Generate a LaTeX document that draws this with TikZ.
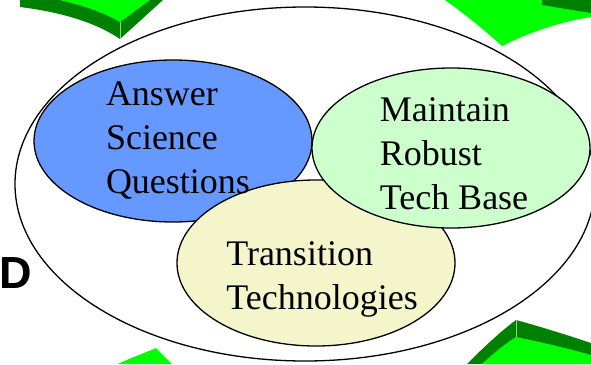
\documentclass[tikz,border=0pt]{standalone}
\usepackage{fontspec}
\setmainfont{Liberation Serif}
\newfontfamily\headfont{Liberation Sans}
\usepackage{xcolor}
\usepackage{tikz}
\usetikzlibrary{shapes.geometric,positioning}
\definecolor{sciblue}{HTML}{6699FF}
\definecolor{basegreen}{HTML}{CCFFCC}
\definecolor{transyellow}{HTML}{F5F5CC}
\definecolor{arrowlight}{HTML}{00FF00}
\definecolor{arrowdark}{HTML}{008000}
\definecolor{ridge}{HTML}{99CC99}

\begin{document}
\begin{tikzpicture}[x=1pt,y=-1pt,line width=1.3pt,
  blob/.style={ellipse,draw=black,inner sep=0pt,minimum width=278pt},
  blobtext/.style={align=left,inner sep=0pt,font=\fontsize{36}{44}\selectfont}]

\useasboundingbox (0,0) rectangle (591,364);

\fill[arrowdark] (20,0) -- (20,7) .. controls (60,12) and (95,22) .. (120,39) -- (163,0) -- cycle;
\fill[arrowlight] (60,0) .. controls (85,6) and (105,13) .. (120,22) -- (150,0) -- cycle;
\draw[ridge,line width=0.6pt] (120,22) -- (120,39);

\fill[arrowlight] (445,0) .. controls (470,18) and (490,35) .. (502,46)
  .. controls (530,32) and (560,22) .. (591,17) -- (591,0) -- cycle;
\fill[arrowdark] (542,0) -- (542,5) -- (591,13) -- (591,0) -- cycle;

\fill[arrowlight] (118,364) .. controls (130,358) and (145,353) .. (156,348) -- (172,364) -- cycle;

\fill[arrowdark] (467,364) .. controls (485,346) and (500,332) .. (516,320)
  .. controls (545,328) and (570,336) .. (591,343) -- (591,364) -- cycle;
\fill[arrowlight] (482,364) .. controls (495,352) and (505,344) .. (516,337)
  .. controls (545,343) and (570,349) .. (591,355) -- (591,364) -- cycle;
\draw[ridge,line width=0.6pt] (516,320) -- (516,337);

\node[ellipse,draw=black,inner sep=0pt,minimum width=580pt,minimum height=354pt] (R_D_ring) at (305,184) {};

\node[blob,fill=sciblue,minimum height=162pt] (Sci) at (173,141) {};
\node[blob,fill=transyellow,minimum height=166pt] (Trans) at (316,263) {};
\node[blob,fill=basegreen,minimum height=160pt] (Base) at (451,148) {};

\node[blobtext] (Sci_txt) at (Sci) [xshift=5pt] {Answer\\Science\\Questions};
\node[blobtext] (Base_txt) at (Base) [xshift=3pt,yshift=-6pt] {Maintain\\Robust\\Tech Base};
\node[blobtext] (Trans_txt) at (Trans) [xshift=6pt,yshift=-16pt] {Transition\\Technologies};

\node[font=\headfont\bfseries\fontsize{45}{45}\selectfont,anchor=base east,inner sep=0pt] (R_D) at (33,288) {D};

\end{tikzpicture}
\end{document}
